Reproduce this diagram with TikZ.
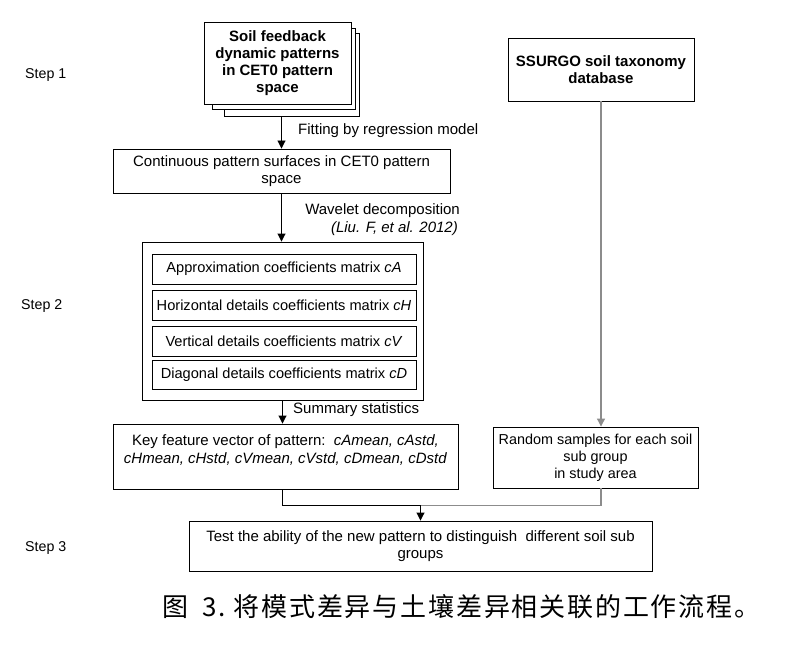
\documentclass[tikz,border=0pt]{standalone}
\usepackage{fontspec}
\setmainfont{Liberation Sans}
\newfontfamily\cjkfont[LetterSpace=7]{Noto Sans CJK SC}
\usetikzlibrary{arrows.meta,calc}
\definecolor{linegray}{RGB}{140,140,140}
\begin{document}
\begin{tikzpicture}[x=1pt,y=-1pt,
  every node/.style={font=\fontsize{15}{17.5}\selectfont, inner sep=0pt, align=center},
  box/.style={draw, line width=0.9pt, fill=white, rectangle},
  inbox/.style={box, font=\fontsize{14.6}{17}\selectfont},
  lbl/.style={font=\fontsize{14.2}{17}\selectfont},
  arr/.style={-{Triangle[length=8pt,width=8pt]}, line width=0.9pt},
  grayline/.style={line width=1.1pt, draw=linegray},
  ln/.style={line width=0.9pt}]
\useasboundingbox (0,0) rectangle (792,650);
% step labels
\node[lbl, anchor=west] (st1) at (25,75) {Step 1};
\node[lbl, anchor=west] (st2) at (21,306) {Step 2};
\node[lbl, anchor=west] (st3) at (25,548) {Step 3};
% stacked box
\node[box, minimum width=135pt, minimum height=83pt] (s3) at (291.5,74.5) {};
\node[box, minimum width=143pt, minimum height=81pt] (s2) at (283.5,68.5) {};
\node[box, minimum width=147pt, minimum height=82pt, font=\bfseries\fontsize{15}{16.8}\selectfont] (s1) at (277.5,63) {Soil feedback\\dynamic patterns\\in CET0 pattern\\space};
% box 2
\node[box, minimum width=337pt, minimum height=44pt] (b2) at (281.5,171) {Continuous pattern surfaces in CET0 pattern\\space};
% big box
\node[box, minimum width=281pt, minimum height=158pt] (big) at (282.5,321) {};
\node[inbox, minimum width=264pt, minimum height=30pt] (ca) at (284,269) {Approximation coefficients matrix \textit{cA}};
\node[inbox, minimum width=264pt, minimum height=30pt] (ch) at (284,305) {Horizontal details coefficients matrix \textit{cH}};
\node[inbox, minimum width=264pt, minimum height=30pt] (cv) at (284,341) {Vertical details coefficients matrix \textit{cV}};
\node[inbox, minimum width=264pt, minimum height=29pt] (cd) at (284,375) {Diagonal details coefficients matrix \textit{cD}};
% key feature
\node[box, minimum width=345pt, minimum height=65pt] (key) at (285.5,456.5) {};
\node (keytxt) at (285.5,450) {Key feature vector of pattern:\ \ \textit{cAmean, cAstd,}\\\textit{cHmean, cHstd, cVmean, cVstd, cDmean, cDstd}};
% right column
\node[box, minimum width=186pt, minimum height=63pt, font=\bfseries\fontsize{15}{17.5}\selectfont] (ss) at (601,69.5) {SSURGO soil taxonomy\\database};
\node[box, minimum width=205pt, minimum height=61pt, font=\fontsize{14.4}{17}\selectfont] (rs) at (595.5,457.5) {Random samples for each soil\\sub group\\in study area};
% final
\node[box, minimum width=463pt, minimum height=50pt] (fin) at (420.5,546) {Test the ability of the new pattern to distinguish\ \ different soil sub\\groups};
% edge labels
\node[anchor=west] (l1) at (298,131) {Fitting by regression model};
\node[anchor=east] (l2) at (460,211) {Wavelet decomposition};
\node[anchor=east] (l3) at (458,229) {\textit{(Liu. F, et al. 2012)}};
\node[anchor=west] (l4) at (293,410) {Summary statistics};
% connectors
\draw[arr] (s3.south -| b2.north) -- (b2.north);
\draw[arr] (b2.south) -- (b2.south |- big.north);
\draw[arr] (big.south) -- (big.south |- key.north);
\draw[grayline, -{Triangle[length=8pt,width=8pt]}] (ss.south) -- (ss.south |- rs.north);
\coordinate (mL) at ($(big.south |- key.south)+(0,16)$);
\coordinate (mR) at ($(ss.south |- key.south)+(0,16)$);
\draw[ln] (big.south |- key.south) -- (mL) -- (fin.north |- mL);
\draw[grayline] (ss.south |- rs.south) -- (mR) -- (fin.north |- mR);
\draw[arr] (fin.north |- mL) -- (fin.north);
% caption
\node[anchor=west, font=\cjkfont\fontsize{26}{28}\selectfont] (cap) at (162,607) {图\hspace{14pt}3.\hspace{8pt}将模式差异与土壤差异相关联的工作流程。};
\end{tikzpicture}
\end{document}
